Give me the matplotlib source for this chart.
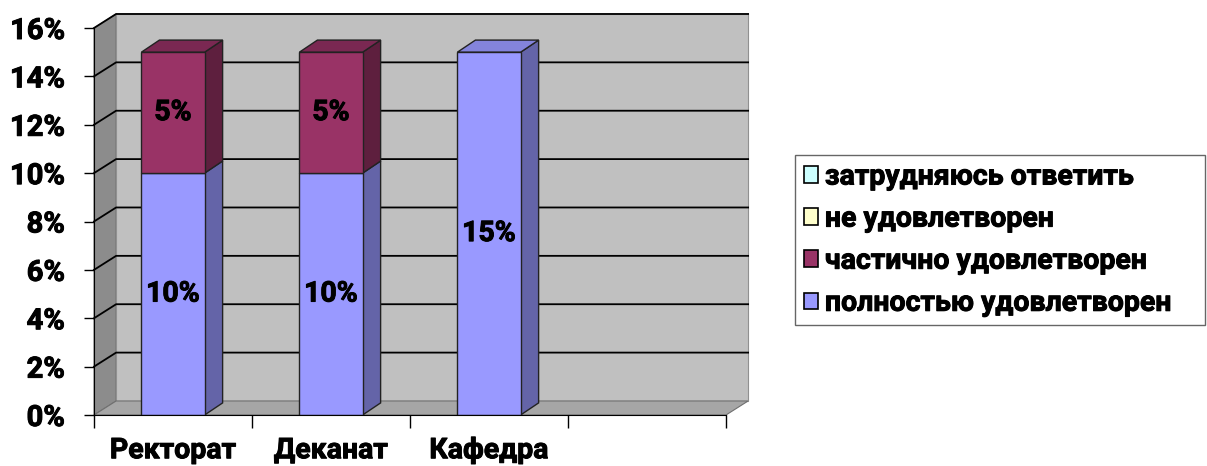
import matplotlib.pyplot as plt
import matplotlib.patheffects as pe
from matplotlib.patches import Polygon, Patch
import numpy as np

plt.rcParams['font.family'] = ['Roboto', 'DejaVu Sans']
plt.rcParams['font.weight'] = 'bold'

# данные
categories = ['Ректорат', 'Деканат', 'Кафедра', '']
full = [10, 10, 15, 0]      # полностью удовлетворен
partial = [5, 5, 0, 0]      # частично удовлетворен
not_sat = [0, 0, 0, 0]      # не удовлетворен
hard = [0, 0, 0, 0]         # затрудняюсь ответить
names = ['полностью удовлетворен', 'частично удовлетворен',
         'не удовлетворен', 'затрудняюсь ответить']
series = [full, partial, not_sat, hard]
front_c = ['#9999FF', '#993366', '#FFFFCC', '#CCFFFF']
side_c = ['#6464A8', '#5E1F3E', '#A8A886', '#86A8A8']
top_c = ['#8484DC', '#7A2852', '#DCDCB0', '#B0DCDC']

Dx, Dy = 0.14, 0.58     # глубина стенок
dx, dy = 0.114, 0.5     # глубина столбиков
W = 0.4
thick = [pe.withStroke(linewidth=0.7, foreground='black')]

fig = plt.figure(figsize=(12.07, 4.66), dpi=100)
ax = fig.add_axes([94 / 1207, 51 / 466, 632 / 1207, 387 / 466])
n = len(categories)
ax.set_xlim(0, n)
ax.set_ylim(0, 16)

# стенки
ax.add_patch(Polygon([(0, 0), (0, 16), (Dx, 16 + Dy), (Dx, Dy)], closed=True,
                     fc='#8C8C8C', ec='#707070', lw=0.8, zorder=0, clip_on=False))
ax.add_patch(Polygon([(Dx, Dy), (Dx, 16 + Dy), (n + Dx, 16 + Dy), (n + Dx, Dy)], closed=True,
                     fc='#C0C0C0', ec='#909090', lw=0.8, zorder=0, clip_on=False))
ax.add_patch(Polygon([(0, 0), (n, 0), (n + Dx, Dy), (Dx, Dy)], closed=True,
                     fc='#A6A6A6', ec='#707070', lw=0.8, zorder=0.5, clip_on=False))

# сетка
for g in range(2, 17, 2):
    ax.plot([0, Dx, n + Dx], [g, g + Dy, g + Dy], color='black', lw=1.3,
            zorder=1, clip_on=False)

# столбики
x = np.arange(n) + 0.5
bottoms = np.zeros(n)
totals = np.sum(series, axis=0)
for vals, name, fc, sc, tc in zip(series, names, front_c, side_c, top_c):
    vals = np.array(vals, dtype=float)
    ax.bar(x, vals, W, bottom=bottoms, color=fc, edgecolor='#222222',
           linewidth=[1 if v > 0 else 0 for v in vals], zorder=4)
    for xi, b, v, t in zip(x, bottoms, vals, totals):
        if v <= 0:
            continue
        r = xi + W / 2
        l = xi - W / 2
        ax.add_patch(Polygon([(r, b), (r, b + v), (r + dx, b + v + dy), (r + dx, b + dy)],
                             closed=True, fc=sc, ec='#222222', lw=1, zorder=3, clip_on=False))
        if b + v >= t:
            ax.add_patch(Polygon([(l, b + v), (r, b + v), (r + dx, b + v + dy), (l + dx, b + v + dy)],
                                 closed=True, fc=tc, ec='#222222', lw=1, zorder=3, clip_on=False))
        ax.text(xi, b + v / 2, f'{v:.0f}%', ha='center', va='center',
                fontsize=20.5, fontweight='bold', zorder=5, path_effects=thick)
    bottoms = bottoms + vals

# оси
for s in ['top', 'right']:
    ax.spines[s].set_visible(False)
ax.spines['left'].set_zorder(6)
ax.spines['bottom'].set_zorder(6)
ax.set_yticks(range(0, 17, 2))
ax.set_yticklabels([f'{t}%' for t in range(0, 17, 2)])
ax.set_xticks(range(n + 1))
ax.set_xticklabels([])
ax.set_xticks(x, minor=True)
ax.set_xticklabels(categories, minor=True)
ax.tick_params(axis='y', length=7, width=1, pad=14, labelsize=21)
ax.tick_params(axis='x', which='major', length=9, width=1)
ax.tick_params(axis='x', which='minor', length=0, pad=16, labelsize=20.5)
for lbl in ax.get_yticklabels() + ax.get_xticklabels(minor=True):
    lbl.set_path_effects(thick)

# легенда
handles = [Patch(fc=c, ec='black', lw=1.2) for c in front_c]
leg = fig.legend(handles[::-1], names[::-1], loc='upper left',
                 bbox_to_anchor=(795 / 1207, 0, 410 / 1207, 1 - 155 / 466),
                 mode='expand',
                 fontsize=20.5, frameon=True, fancybox=False, edgecolor='#404040',
                 handlelength=0.5, handleheight=0.5, handletextpad=0.25,
                 labelspacing=0.53, borderpad=0.3, borderaxespad=0)
leg.get_frame().set_linewidth(1)
for tx in leg.get_texts():
    tx.set_path_effects(thick)

fig.savefig('out.png', dpi=100)
